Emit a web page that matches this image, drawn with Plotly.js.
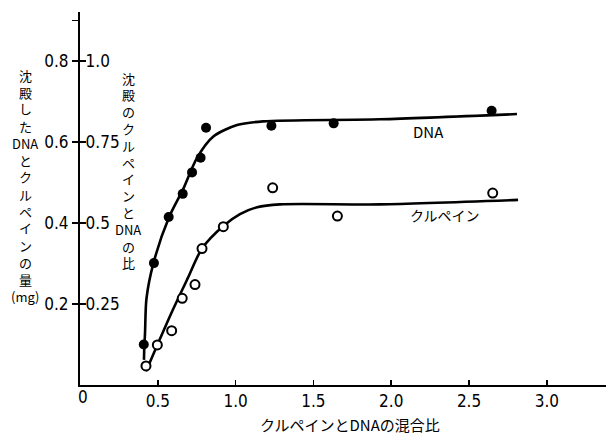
<!DOCTYPE html>
<html>
<head>
<meta charset="utf-8">
<script src="https://cdn.plot.ly/plotly-3.0.1.min.js"></script>
<style>html,body{margin:0;padding:0;background:#fff;}#chart{width:606px;height:435px;}</style>
</head>
<body>
<div id="chart"></div>
<script>
// Measured points (mixing ratio clupeine/DNA vs precipitated amount, mg)
const dnaX = [0.41, 0.475, 0.57, 0.66, 0.72, 0.775, 0.81, 1.23, 1.63, 2.645];
const dnaY = [0.100, 0.301, 0.415, 0.472, 0.525, 0.561, 0.635, 0.640, 0.646, 0.677];
const clupX = [0.424, 0.497, 0.589, 0.657, 0.739, 0.784, 0.921, 1.238, 1.654, 2.652];
const clupY = [0.047, 0.099, 0.134, 0.214, 0.248, 0.337, 0.391, 0.487, 0.417, 0.474];
// Hand-drawn smooth curves
const dnaCurveX = [0.411, 0.413, 0.418, 0.427, 0.472, 0.572, 0.662, 0.752, 0.855, 1.009, 1.176, 1.928, 2.808];
const dnaCurveY = [0.062, 0.090, 0.130, 0.213, 0.301, 0.414, 0.483, 0.561, 0.613, 0.642, 0.651, 0.656, 0.669];
const clupCurveX = [0.424, 0.497, 0.591, 0.694, 0.784, 0.919, 1.028, 1.138, 1.285, 1.928, 2.815];
const clupCurveY = [0.034, 0.099, 0.181, 0.265, 0.337, 0.392, 0.422, 0.439, 0.446, 0.446, 0.457];
// Axis ticks
const xTicks = [0, 0.5, 1.0, 1.5, 2.0, 2.5, 3.0];
const xTickText = ['', '0.5', '1.0', '1.5', '2.0', '2.5', '3.0'];
const xZeroLabel = '0';
const yTicks = [0.2, 0.4, 0.6, 0.8, 0.9];
const yTickText = ['0.2', '0.4', '0.6', '0.8', ''];
const y2Ticks = [0.25, 0.5, 0.75, 1.0];
const y2TickText = ['0.25', '0.5', '0.75', '1.0'];
const yTitleLines = ['沈', '殿', 'し', 'た', 'DNA', 'と', 'ク', 'ル', 'ペ', 'イ', 'ン', 'の', '量', '(mg)'];
const y2TitleLines = ['沈', '殿', 'の', 'ク', 'ル', 'ペ', 'イ', 'ン', 'と', 'DNA', 'の', '比'];
const xTitle = 'クルペインとDNAの混合比';
const dnaLabel = 'DNA';
const clupLabel = 'クルペイン';

const numFont = 'Liberation Sans Narrow, DejaVu Sans Condensed, Liberation Sans, sans-serif';
const cjkFont = 'Noto Sans CJK JP, sans-serif';
const yMax = 0.921;
const W = 606, H = 435, ML = 80, MR = 0, MT = 12, MB = 50;
const PW = W - ML - MR, PH = H - MT - MB;
const px2paperX = px => (px - ML) / PW;
const px2paperY = py => (H - MB - py) / PH;

const traces = [
  {x: dnaCurveX, y: dnaCurveY, mode: 'lines', line: {color: '#000', width: 2.6, shape: 'spline', smoothing: 0.8}, hoverinfo: 'skip', showlegend: false},
  {x: clupCurveX, y: clupCurveY, mode: 'lines', line: {color: '#000', width: 2.6, shape: 'spline', smoothing: 0.8}, hoverinfo: 'skip', showlegend: false},
  {x: dnaX, y: dnaY, mode: 'markers', marker: {symbol: 'circle', size: 10, color: '#000'}, showlegend: false},
  {x: clupX, y: clupY, mode: 'markers', marker: {symbol: 'circle', size: 9, color: '#fff', line: {color: '#000', width: 2}}, showlegend: false},
  {x: [], y: [], yaxis: 'y2', mode: 'markers', showlegend: false}
];

const annotations = [];
function stack(lines, cx, topY, step, size) {
  lines.forEach((t, i) => {
    annotations.push({xref: 'paper', yref: 'paper', x: px2paperX(cx), y: px2paperY(topY + i * step),
      xanchor: 'center', yanchor: 'middle', text: t, showarrow: false, borderpad: 0,
      font: {family: cjkFont, size: size, color: '#000'}});
  });
}
stack(yTitleLines, 25, 75, 17.0, 13);
stack(y2TitleLines, 128, 78, 16.8, 13);
annotations.push({xref: 'paper', yref: 'paper', x: px2paperX(350), y: px2paperY(424), xanchor: 'center', yanchor: 'middle',
  text: xTitle, showarrow: false, font: {family: cjkFont, size: 15, color: '#000'}});
annotations.push({xref: 'x', yref: 'paper', x: 0.02, y: px2paperY(397), xanchor: 'center', yanchor: 'middle',
  text: xZeroLabel, showarrow: false, font: {family: numFont, size: 17, color: '#000'}});
annotations.push({xref: 'x', yref: 'y', x: 2.237, y: 0.627, xanchor: 'center', yanchor: 'middle',
  text: dnaLabel, showarrow: false, font: {family: cjkFont, size: 15, color: '#000'}});
annotations.push({xref: 'x', yref: 'y', x: 2.346, y: 0.419, xanchor: 'center', yanchor: 'middle',
  text: clupLabel, showarrow: false, font: {family: cjkFont, size: 14, color: '#000'}});

const layout = {
  width: W, height: H,
  margin: {l: ML, r: MR, t: MT, b: MB},
  paper_bgcolor: '#fff', plot_bgcolor: '#fff',
  showlegend: false,
  xaxis: {
    range: [0, 3.38], showline: true, linecolor: '#000', linewidth: 2,
    ticks: 'inside', ticklen: 5, tickwidth: 1.5, tickcolor: '#000',
    tickvals: xTicks, ticktext: xTickText,
    tickfont: {family: numFont, size: 17, color: '#000'},
    showgrid: false, zeroline: false
  },
  yaxis: {
    range: [0, yMax], showline: true, linecolor: '#000', linewidth: 2,
    ticks: 'outside', ticklen: 6, tickwidth: 1.5, tickcolor: '#000',
    tickvals: yTicks, ticktext: yTickText,
    tickfont: {family: numFont, size: 17, color: '#000'},
    showgrid: false, zeroline: false
  },
  yaxis2: {
    overlaying: 'y', side: 'left', anchor: 'x',
    range: [0, yMax * 1.25], showline: false,
    ticks: 'inside', ticklen: 6, tickwidth: 1.5, tickcolor: '#000',
    ticklabelposition: 'inside',
    tickvals: y2Ticks, ticktext: y2TickText,
    tickfont: {family: numFont, size: 17, color: '#000'},
    showgrid: false, zeroline: false
  },
  annotations: annotations
};

Plotly.newPlot('chart', traces, layout, {staticPlot: true, displayModeBar: false});
</script>
</body>
</html>
